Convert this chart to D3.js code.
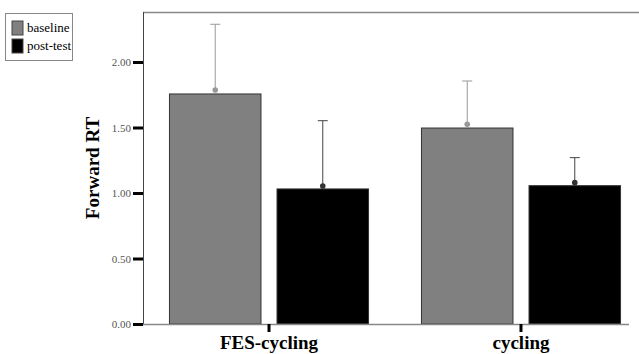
<!DOCTYPE html>
<html>
<head>
<meta charset="utf-8">
<script src="https://cdn.jsdelivr.net/npm/d3@7"></script>
<style>
  body { margin: 0; background: #fff; }
  text { font-family: "Liberation Serif", "Times New Roman", serif; }
</style>
</head>
<body>
<svg id="chart" width="639" height="354"></svg>
<script>
// data
const categories = ["FES-cycling", "cycling"];
const groups = ["baseline", "post-test"];
const barValues = { "baseline": [1.756, 1.496], "post-test": [1.031, 1.056] };
const meanMarks = { "baseline": [1.786, 1.524], "post-test": [1.053, 1.079] };
const errorTops = { "baseline": [2.288, 1.855], "post-test": [1.552, 1.27] };
const yTicks = [0, 0.5, 1.0, 1.5, 2.0];

const colors = { "baseline": "#808080", "post-test": "#000000" };
const errColors = { "baseline": "#999999", "post-test": "#444444" };

const svg = d3.select("#chart");
const mLeft = 143, mRight = 647, mTop = 12, mBottom = 324;

const y = d3.scaleLinear().domain([0, 2.0]).range([mBottom, mBottom - 262]);
const x0 = d3.scaleBand().domain(categories).range([mLeft, mRight]).paddingInner(0.21).paddingOuter(0.105);
const x1 = d3.scaleBand().domain(groups).range([0, x0.bandwidth()]).paddingInner(0.149);

// frame: top line
svg.append("line")
  .attr("x1", mLeft).attr("x2", 639).attr("y1", mTop + 0.5).attr("y2", mTop + 0.5)
  .attr("stroke", "#888").attr("stroke-width", 1.5);

// bars
const g = svg.append("g");
categories.forEach((c, i) => {
  groups.forEach(k => {
    const bx = x0(c) + x1(k);
    g.append("rect")
      .attr("x", bx).attr("y", y(barValues[k][i]))
      .attr("width", x1.bandwidth()).attr("height", mBottom - y(barValues[k][i]))
      .attr("fill", colors[k]).attr("stroke", "#333").attr("stroke-width", 1);
    const cx = bx + x1.bandwidth() / 2;
    // error bar
    g.append("line")
      .attr("x1", cx).attr("x2", cx)
      .attr("y1", y(meanMarks[k][i])).attr("y2", y(errorTops[k][i]))
      .attr("stroke", errColors[k]).attr("stroke-width", 1);
    g.append("line")
      .attr("x1", cx - 5).attr("x2", cx + 5)
      .attr("y1", y(errorTops[k][i])).attr("y2", y(errorTops[k][i]))
      .attr("stroke", errColors[k]).attr("stroke-width", 1);
    g.append("circle")
      .attr("cx", cx).attr("cy", y(meanMarks[k][i])).attr("r", 2.8)
      .attr("fill", k === "baseline" ? "#999" : "#333");
  });
});

// y axis
const yAxis = svg.append("g").attr("transform", `translate(${mLeft},0)`)
  .call(d3.axisLeft(y).tickValues(yTicks).tickFormat(d3.format(".2f")).tickSize(10).tickPadding(2));
yAxis.select(".domain").attr("stroke", "#444").attr("d", `M0.5,${mBottom}V${mTop}`);
yAxis.selectAll(".tick line").attr("stroke", "#000").attr("stroke-width", 3);
yAxis.selectAll(".tick text").attr("fill", "#555").style("font-size", "11px")
  .style("font-family", "'Liberation Serif', serif");

// x axis
const xAxis = svg.append("g").attr("transform", `translate(0,${mBottom})`)
  .call(d3.axisBottom(x0).tickSize(8).tickPadding(4));
xAxis.select(".domain").attr("stroke", "#888").attr("stroke-width", 1.5).attr("d", `M${mLeft},0.5H629`);
xAxis.selectAll(".tick line").attr("stroke", "#000").attr("stroke-width", 3);
xAxis.selectAll(".tick text").attr("fill", "#000").style("font-size", "19px")
  .style("font-weight", "bold").style("font-family", "'Liberation Serif', serif");

// y label
svg.append("text")
  .attr("transform", "translate(99,168) rotate(-90)")
  .attr("text-anchor", "middle")
  .style("font-size", "19px").style("font-weight", "bold")
  .text("Forward RT");

// legend
const legend = svg.append("g");
legend.append("rect").attr("x", 5.5).attr("y", 13.5).attr("width", 67).attr("height", 47)
  .attr("fill", "#fff").attr("stroke", "#888");
groups.forEach((k, i) => {
  legend.append("rect").attr("x", 12).attr("y", 21 + i * 18).attr("width", 11).attr("height", 14)
    .attr("fill", colors[k]).attr("stroke", "#444");
  legend.append("text").attr("x", 27).attr("y", 32 + i * 18)
    .style("font-size", "13px").text(k);
});
</script>
</body>
</html>
